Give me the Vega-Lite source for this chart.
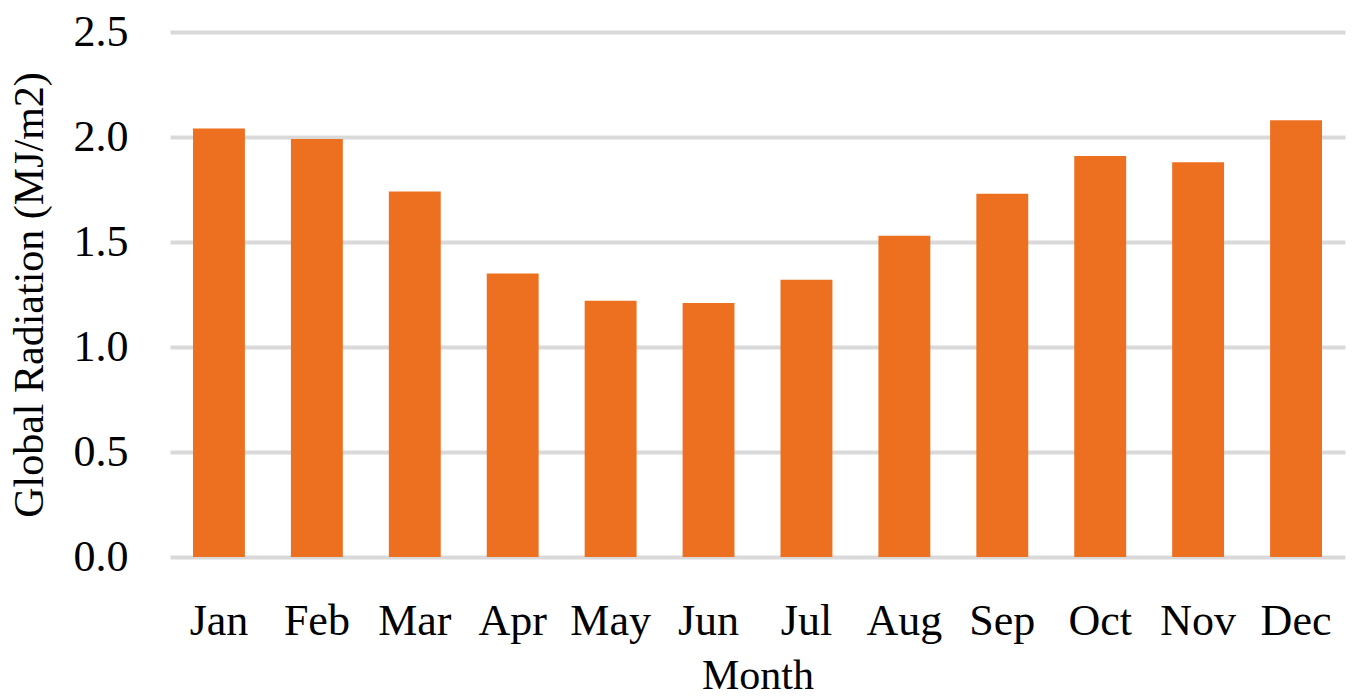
{
  "$schema": "https://vega.github.io/schema/vega-lite/v6.json",
  "width": 1175,
  "height": 525,
  "autosize": {"type": "none"},
  "padding": {"left": 170, "top": 32, "right": 10, "bottom": 141},
  "background": "white",
  "config": {"view": {"stroke": null}, "font": "Liberation Serif"},
  "data": {"values": [
    {"Month": "Jan", "Radiation": 2.04},
    {"Month": "Feb", "Radiation": 1.99},
    {"Month": "Mar", "Radiation": 1.74},
    {"Month": "Apr", "Radiation": 1.35},
    {"Month": "May", "Radiation": 1.22},
    {"Month": "Jun", "Radiation": 1.21},
    {"Month": "Jul", "Radiation": 1.32},
    {"Month": "Aug", "Radiation": 1.53},
    {"Month": "Sep", "Radiation": 1.73},
    {"Month": "Oct", "Radiation": 1.91},
    {"Month": "Nov", "Radiation": 1.88},
    {"Month": "Dec", "Radiation": 2.08}
  ]},
  "mark": {"type": "bar", "color": "#ED7020"},
  "encoding": {
    "x": {
      "field": "Month", "type": "nominal", "sort": null,
      "scale": {"paddingInner": 0.47, "paddingOuter": 0.235},
      "axis": {
        "title": "Month", "labelAngle": 0, "ticks": false, "domain": false,
        "labelFont": "Liberation Serif", "labelFontSize": 44, "labelColor": "#000",
        "labelPadding": 42,
        "titleFont": "Liberation Serif", "titleFontSize": 42, "titleFontWeight": "normal", "titleColor": "#000",
        "titlePadding": 12
      }
    },
    "y": {
      "field": "Radiation", "type": "quantitative",
      "scale": {"domain": [0, 2.5], "nice": false},
      "axis": {
        "title": "Global Radiation (MJ/m2)", "values": [0, 0.5, 1, 1.5, 2, 2.5], "format": ".1f",
        "ticks": false, "domain": false, "grid": true, "gridColor": "#D9D9D9", "gridWidth": 4,
        "labelFont": "Liberation Serif", "labelFontSize": 44, "labelColor": "#000",
        "labelPadding": 42,
        "titleFont": "Liberation Serif", "titleFontSize": 42, "titleFontWeight": "normal", "titleColor": "#000",
        "titlePadding": 22
      }
    }
  }
}
